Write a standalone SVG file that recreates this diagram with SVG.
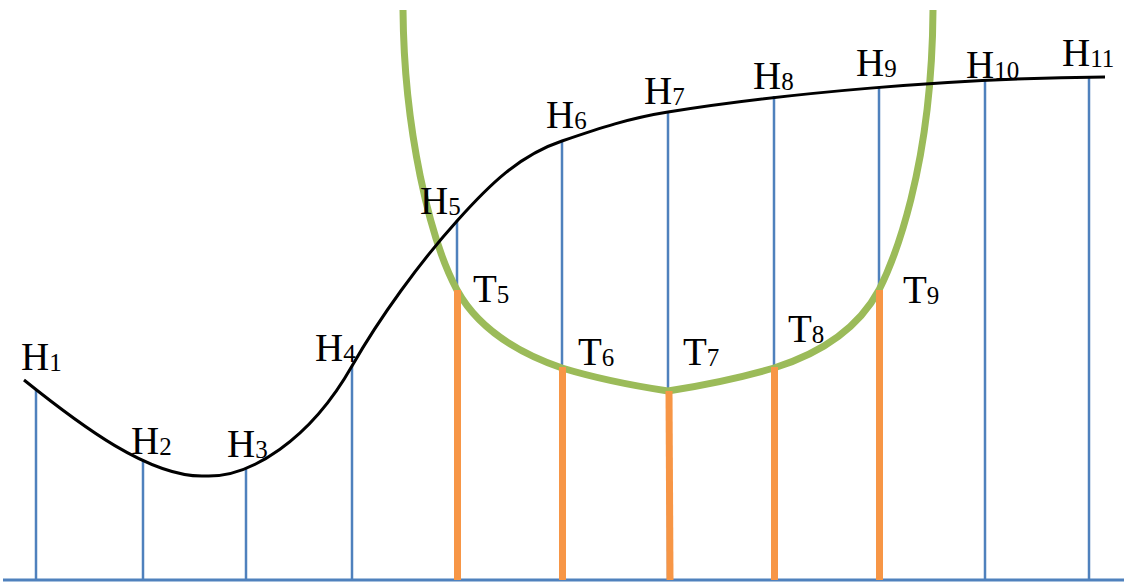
<svg xmlns="http://www.w3.org/2000/svg" width="1124" height="585" viewBox="0 0 1124 585">
<style>
.blue{stroke:#4F81BD;stroke-width:2.5;fill:none}
.base{stroke:#4F81BD;stroke-width:3;fill:none}
.orange{stroke:#F79646;stroke-width:7;fill:none}
.green{stroke:#9BBB59;stroke-width:7;fill:none;stroke-linecap:butt;stroke-linejoin:round}
.black{stroke:#000;stroke-width:3;fill:none}
text{font-family:"Liberation Serif","Times New Roman",serif;font-size:39px;fill:#000}
.sub{font-size:25px}
</style>
<rect width="1124" height="585" fill="#fff"/>
<g id="connectors">
<g id="verticals">
<line class="blue" x1="36" y1="390" x2="36" y2="580"/>
<line class="blue" x1="143" y1="460" x2="143" y2="580"/>
<line class="blue" x1="246" y1="469" x2="246" y2="580"/>
<line class="blue" x1="352" y1="366" x2="352" y2="580"/>
<line class="blue" x1="457" y1="220" x2="457" y2="580"/>
<line class="blue" x1="562" y1="141" x2="562" y2="580"/>
<line class="blue" x1="668" y1="112" x2="668" y2="580"/>
<line class="blue" x1="774" y1="96" x2="774" y2="580"/>
<line class="blue" x1="879" y1="87" x2="879" y2="580"/>
<line class="blue" x1="985" y1="80" x2="985" y2="580"/>
<line class="blue" x1="1089" y1="77" x2="1089" y2="580"/>
</g>
<line id="baseline" class="base" x1="3" y1="580" x2="1124" y2="580"/>
<path id="green-curve" class="green" d="M403,10 C404,130 430,240 457,290 C475,323 510,350 562,368 C595,378 635,386 668,391 C700,386 740,378 774,368 C825,352 860,325 879,290 C893,262 932,170 933,10"/>
<path id="black-curve" class="black" d="M24,380 C80,425 150,478 205,476 C250,478 310,440 352,366 C380,317 420,262 457,221 C490,184 520,155 562,141 C600,128 630,118 668,112 C780,94 950,78 1105,77"/>
<g id="bars">
<line class="orange" x1="457.5" y1="290" x2="457.5" y2="580"/>
<line class="orange" x1="562.5" y1="367" x2="562.5" y2="580"/>
<line class="orange" x1="669" y1="391" x2="670" y2="580"/>
<line class="orange" x1="774.5" y1="367" x2="774.5" y2="580"/>
<line class="orange" x1="879.5" y1="290" x2="879.5" y2="580"/>
</g>
</g>
<g id="H1"><text x="21" y="370">H<tspan class="sub" dy="1">1</tspan></text></g>
<g id="H2"><text x="131" y="454">H<tspan class="sub" dy="1">2</tspan></text></g>
<g id="H3"><text x="227" y="457">H<tspan class="sub" dy="1">3</tspan></text></g>
<g id="H4"><text x="315" y="361">H<tspan class="sub" dy="1">4</tspan></text></g>
<g id="H5"><text x="420" y="214">H<tspan class="sub" dy="1">5</tspan></text></g>
<g id="H6"><text x="546" y="128">H<tspan class="sub" dy="1">6</tspan></text></g>
<g id="H7"><text x="644" y="104">H<tspan class="sub" dy="1">7</tspan></text></g>
<g id="H8"><text x="753" y="89">H<tspan class="sub" dy="1">8</tspan></text></g>
<g id="H9"><text x="856" y="76">H<tspan class="sub" dy="1">9</tspan></text></g>
<g id="H10"><text x="966" y="78">H<tspan class="sub" dy="1">10</tspan></text></g>
<g id="H11"><text x="1062" y="66">H<tspan class="sub" dy="1">11</tspan></text></g>
<g id="T5"><text x="473" y="302">T<tspan class="sub" dy="1">5</tspan></text></g>
<g id="T6"><text x="578" y="365">T<tspan class="sub" dy="1">6</tspan></text></g>
<g id="T7"><text x="683" y="365">T<tspan class="sub" dy="1">7</tspan></text></g>
<g id="T8"><text x="788" y="342">T<tspan class="sub" dy="1">8</tspan></text></g>
<g id="T9"><text x="903" y="303">T<tspan class="sub" dy="1">9</tspan></text></g>
</svg>
